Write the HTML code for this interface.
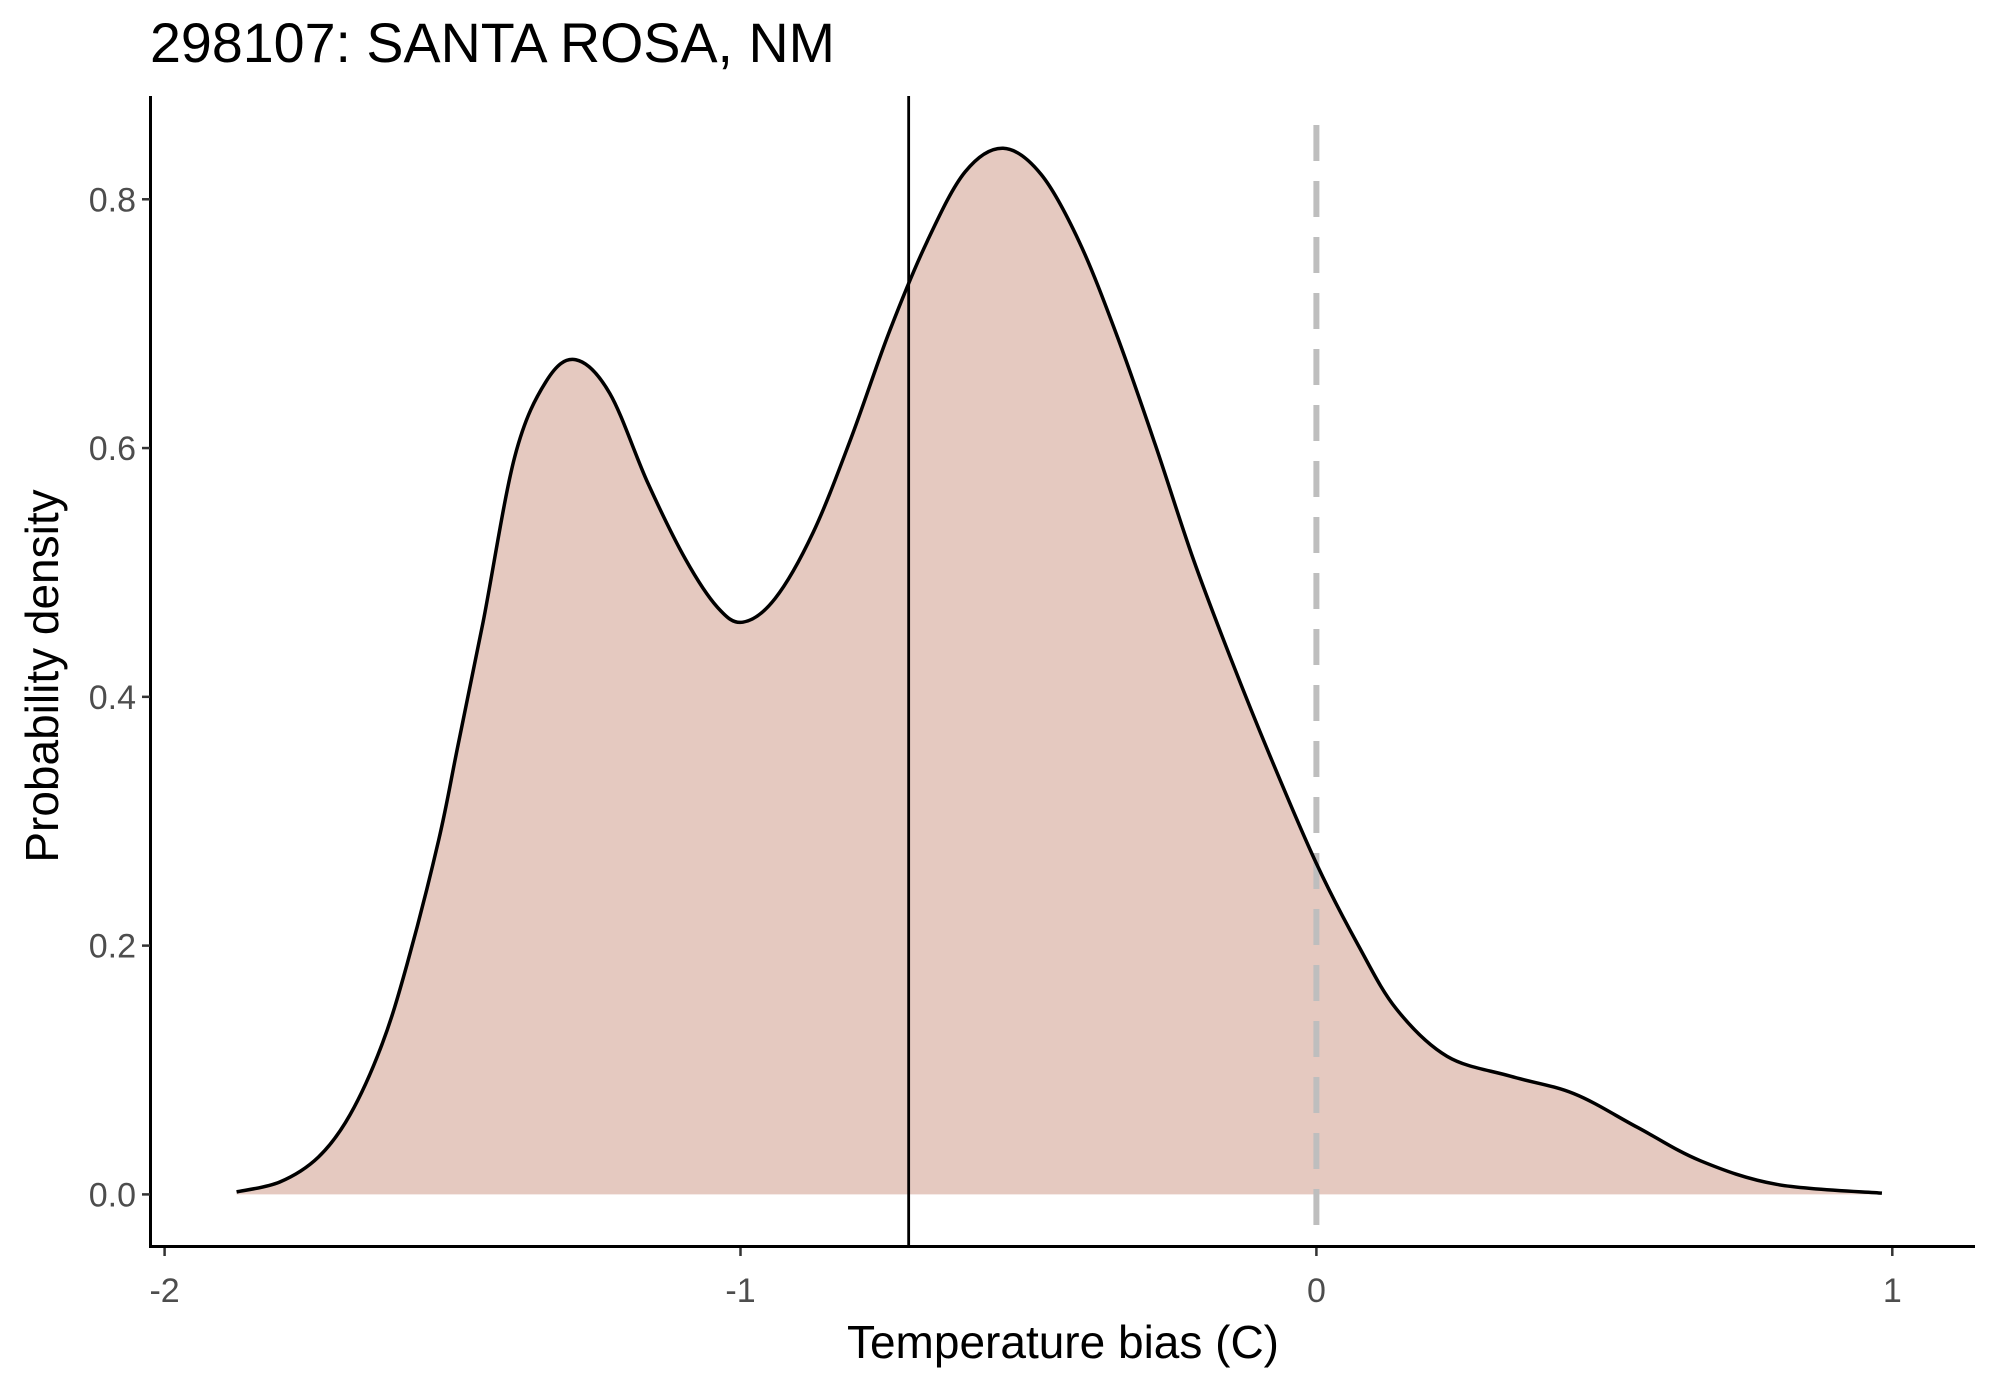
<!DOCTYPE html>
<html><head><meta charset="utf-8"><style>
html,body{margin:0;padding:0;background:#fff;}
svg{display:block;font-family:"Liberation Sans",Arial,sans-serif;}
</style></head><body>
<svg id="chart" width="1990" height="1384" viewBox="0 0 1990 1384">
<text x="150" y="62" font-size="55.6" fill="#000">298107: SANTA ROSA, NM</text>
<g id="plot"></g>
</svg>
<script>
const densX = [-1.875,-1.8,-1.733,-1.678,-1.623,-1.579,-1.524,-1.491,-1.447,-1.392,-1.337,-1.286,-1.227,-1.161,-1.096,-1.04,-0.996,-0.94,-0.874,-0.808,-0.742,-0.676,-0.61,-0.544,-0.478,-0.412,-0.346,-0.28,-0.214,-0.148,-0.081,0,0.073,0.139,0.227,0.337,0.447,0.557,0.667,0.8,0.982];
const densY = [0.002,0.01,0.03,0.064,0.12,0.185,0.285,0.36,0.46,0.593,0.654,0.671,0.644,0.572,0.511,0.472,0.46,0.479,0.532,0.608,0.693,0.766,0.822,0.841,0.82,0.766,0.69,0.603,0.511,0.43,0.353,0.266,0.2,0.149,0.111,0.095,0.081,0.054,0.027,0.008,0.001];
const xTicks = [-2,-1,0,1];
const xTickLabels = ["-2","-1","0","1"];
const yTicks = [0,0.2,0.4,0.6,0.8];
const yTickLabels = ["0.0","0.2","0.4","0.6","0.8"];
const meanBias = -0.708;
const refLine = 0;

const X = v => 1316.4 + v*575.9;
const Y = v => 1194.4 - v*1243.9;
const NS = "http://www.w3.org/2000/svg";
const g = document.getElementById('plot');
function mk(tag, attrs){const e=document.createElementNS(NS,tag);for(const k in attrs)e.setAttribute(k,attrs[k]);g.appendChild(e);return e;}

const pts = densX.map((x,i)=>[X(x),Y(densY[i])]);
let d = `M${pts[0][0]},${pts[0][1]}`;
for(let i=0;i<pts.length-1;i++){
  const p0=pts[Math.max(0,i-1)],p1=pts[i],p2=pts[i+1],p3=pts[Math.min(pts.length-1,i+2)];
  const c1=[p1[0]+(p2[0]-p0[0])/6,p1[1]+(p2[1]-p0[1])/6];
  const c2=[p2[0]-(p3[0]-p1[0])/6,p2[1]-(p3[1]-p1[1])/6];
  d+=` C${c1[0]},${c1[1]} ${c2[0]},${c2[1]} ${p2[0]},${p2[1]}`;
}
const area = mk('path',{d:d+` L${pts[pts.length-1][0]},${Y(0)} L${pts[0][0]},${Y(0)} Z`,fill:'#e5c9c0',stroke:'none'});



const dash = mk('line',{x1:X(refLine),x2:X(refLine),y1:125,y2:1246,stroke:'#bebebe','stroke-width':6,'stroke-dasharray':'36 20'});



const curve = mk('path',{d:d,fill:'none',stroke:'#000','stroke-width':3.5});



const mline = mk('line',{x1:X(meanBias),x2:X(meanBias),y1:96,y2:1246,stroke:'#000','stroke-width':2.8});



const ya = mk('line',{x1:150.5,x2:150.5,y1:96,y2:1248,stroke:'#000','stroke-width':3});


const xa = mk('line',{x1:149,x2:1975,y1:1246.5,y2:1246.5,stroke:'#000','stroke-width':3});



xTicks.forEach((v,i)=>{
  const t=mk('line',{x1:X(v),x2:X(v),y1:1248,y2:1256,stroke:'#333','stroke-width':2.5});
  
  
  const l=mk('text',{x:X(v),y:1302,'font-size':34,fill:'#4d4d4d','text-anchor':'middle'});
  l.textContent=xTickLabels[i];
  
  
});
yTicks.forEach((v,i)=>{
  const t=mk('line',{x1:142,x2:150,y1:Y(v),y2:Y(v),stroke:'#333','stroke-width':2.5});
  
  
  const l=mk('text',{x:136,y:Y(v)+12,'font-size':34,fill:'#4d4d4d','text-anchor':'end'});
  l.textContent=yTickLabels[i];
  
  
});
const xt=mk('text',{x:1063,y:1358,'font-size':46,fill:'#000','text-anchor':'middle'});
xt.textContent='Temperature bias (C)';


const yt=mk('text',{x:0,y:0,'font-size':46,fill:'#000','text-anchor':'middle',transform:'translate(58,676) rotate(-90)'});
yt.textContent='Probability density';


</script>
</body></html>
